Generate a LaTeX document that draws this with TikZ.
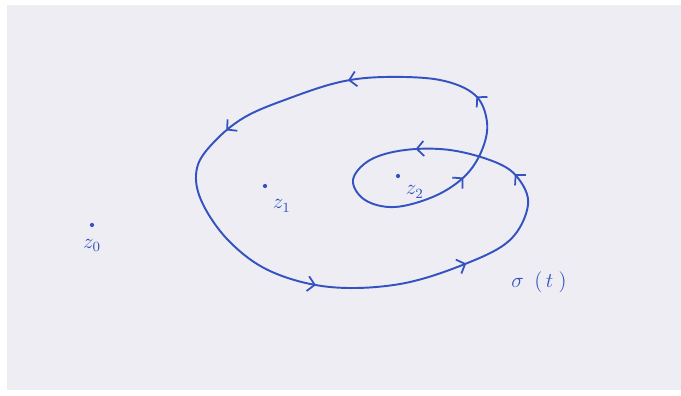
\documentclass[tikz,border=0pt]{standalone}
\usepackage{amsmath}
\usepackage{xcolor}
\usepackage{tikz}
\usetikzlibrary{arrows.meta, positioning, decorations.markings}
\definecolor{papel}{RGB}{237,237,243}
\definecolor{tinta}{RGB}{52,82,192}
\newcommand{\barb}{\arrow{Straight Barb[length=1.4mm, width=3mm, line width=1pt]}}

\begin{document}
\begin{tikzpicture}[x=0.02cm, y=-0.02cm,
        pt/.style={circle, fill=tinta, inner sep=0pt, minimum size=2.4pt},
        lbl/.style={text=tinta, inner sep=1pt, font=\large},
        curva/.style={draw=tinta, line width=1.1pt, postaction={decorate},
                      decoration={markings,
                        mark=at position 0.106 with {\barb},
                        mark=at position 0.302 with {\barb},
                        mark=at position 0.433 with {\barb},
                        mark=at position 0.539 with {\barb},
                        mark=at position 0.628 with {\barb},
                        mark=at position 0.803 with {\barb},
                        mark=at position 0.880 with {\barb},
                        mark=at position 0.993 with {\barb}}}]

      % paper
      \fill[white] (0,0) rectangle (681,396);
      \fill[papel] (7,5) rectangle (681,390);

      \node[pt] (z0) at (92,225) {};
      \node[pt] (z1) at (265,186) {};
      \node[pt] (z2) at (398,176) {};
      \node[lbl, below=2mm of z0] (z0lbl) {$z_0$};
      \node[lbl, below right=2mm and 0.8mm of z1] (z1lbl) {$z_1$};
      \node[lbl, below right=1.2mm and 0.8mm of z2] (z2lbl) {$z_2$};

      % the loop sigma(t)
      \path[curva] plot[smooth cycle, tension=0.6] coordinates {
          (385,77) (340,82) (290,98) (245,117) (214,142) (197,168)
          (201,200) (228,240) (270,271) (330,287) (400,284) (465,264)
          (510,240) (528,205) (518,178) (495,162) (450,150) (405,150)
          (370,160) (353,180) (365,200) (395,207) (435,196) (465,176)
          (482,150) (487,122) (475,95) (440,80)};

      \node[lbl] (sigma) at (539,282) {$\sigma\hspace{6pt}(\hspace{2pt}t\hspace{3pt})$};
    \end{tikzpicture}
\end{document}
